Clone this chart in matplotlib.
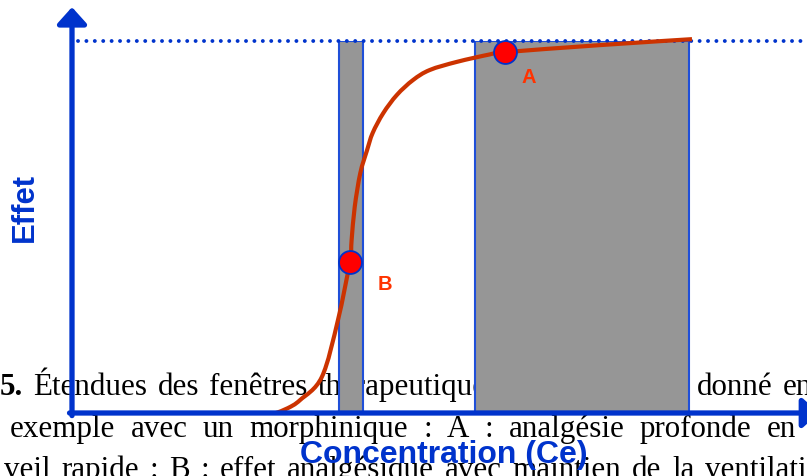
import matplotlib

matplotlib.use("Agg")
import matplotlib.pyplot as plt
from matplotlib.patches import PathPatch
from matplotlib.path import Path

# concentration / effect curve (Emax model, effect in % of maximum)
CONC = [3.29, 3.48, 3.68, 4.03, 4.29, 4.48, 4.51, 4.56, 4.65, 4.76,
        4.85, 5.02, 5.24, 5.50, 5.77, 6.21, 6.74, 6.98, 8.52, 10.0]
EFFECT = [0.0, 1.3, 3.5, 9.7, 25.0, 40.6, 46.5, 55.4, 64.5, 70.7,
          75.3, 80.6, 85.5, 89.5, 92.2, 94.4, 96.4, 97.0, 98.9, 100.5]
EMAX = 100

# therapeutic windows (concentration ranges)
WINDOW_START = [4.31, 6.50]
WINDOW_END = [4.69, 9.95]

# highlighted operating points
POINT_LABELS = ["A", "B"]
POINT_CONC = [6.98, 4.48]
POINT_EFFECT = [97.0, 40.6]
LABEL_OFFSETS = [(17.5, -18.5), (25.0, -16.0)]

CAPTION = [
    (0, 395, 2.5, ["5.", "Étendues", "des", "fenêtres", "thérapeutiques", "pour", "un", "effet"]),
    (697, 395, 2.5, ["donné", "en"]),
    (10, 437, 7.5, ["exemple", "avec", "un", "morphinique", ":", "A", ":", "analgésie", "profonde", "en"]),
    (4, 478, 3.0, ["veil", "rapide", ":", "B", ":", "effet", "analgésique", "avec", "maintien", "de", "la", "ventilation"]),
]

BLUE = "#0033CC"
EDGE_BLUE = "#1F4FD8"
GRAY = "#969696"
CURVE = "#CC3300"
LABEL = "#FF3300"

W, H = 807, 476
CAPTION_PX = 31


def smooth_path(xs, ys):
    """Catmull-Rom curve through every (x, y), as cubic Bezier segments."""
    pts = list(zip(xs, ys))
    verts = [pts[0]]
    codes = [Path.MOVETO]
    for i in range(len(pts) - 1):
        p0 = pts[max(i - 1, 0)]
        p1, p2 = pts[i], pts[i + 1]
        p3 = pts[min(i + 2, len(pts) - 1)]
        c1 = (p1[0] + (p2[0] - p0[0]) / 6, p1[1] + (p2[1] - p0[1]) / 6)
        c2 = (p2[0] - (p3[0] - p1[0]) / 6, p2[1] - (p3[1] - p1[1]) / 6)
        verts += [c1, c2, p2]
        codes += [Path.CURVE4] * 3
    return Path(verts, codes)


fig = plt.figure(figsize=(W / 100, H / 100), dpi=100)
ax = fig.add_axes([72 / W, (H - 413) / H, 620 / W, 372 / H])
ax.set_xlim(0, 10)
ax.set_ylim(0, 100)
ax.set_axis_off()
ax.patch.set_visible(False)

# caption printed underneath the figure
renderer = fig.canvas.get_renderer()
space = 0.25 * CAPTION_PX
for x0, baseline, gap, words in CAPTION:
    x = x0
    for word in words:
        t = ax.text(x / W, 1 - baseline / H, word, transform=fig.transFigure,
                    family="Liberation Serif", fontsize=CAPTION_PX * 0.72,
                    fontweight="bold" if word == "5." else "normal",
                    ha="left", va="baseline", color="black", zorder=1, clip_on=False)
        x += t.get_window_extent(renderer).width + space + gap

# windows
ax.bar(WINDOW_START, [EMAX] * len(WINDOW_START),
       width=[e - s for s, e in zip(WINDOW_START, WINDOW_END)], align="edge",
       color=GRAY, edgecolor=EDGE_BLUE, linewidth=1.5, zorder=2)

# maximal effect
ax.plot([0.1, 12.5], [EMAX, EMAX], color=BLUE, lw=2.8, linestyle=(0, (0.01, 2.15)),
        dash_capstyle="round", clip_on=False, zorder=3)

ax.add_patch(PathPatch(smooth_path(CONC, EFFECT), facecolor="none", edgecolor=CURVE,
                       lw=3.0, capstyle="butt", clip_on=False, zorder=4))

ax.scatter(POINT_CONC, POINT_EFFECT, s=16.5 ** 2, color="#FF0000", edgecolor=BLUE,
           linewidth=1.3, zorder=5, clip_on=False)
for label, cx, cy, off in zip(POINT_LABELS, POINT_CONC, POINT_EFFECT, LABEL_OFFSETS):
    ax.annotate(label, (cx, cy), xytext=off, textcoords="offset points",
                ha="center", va="center", color=LABEL, fontsize=14.5,
                family="Liberation Sans", fontweight="bold", zorder=6)

# axes drawn as arrows
arrow = dict(arrowstyle="-|>,head_length=1.0,head_width=0.9", mutation_scale=10,
             color=BLUE, lw=3.8, shrinkA=0, shrinkB=0)
ax.annotate("", xy=(0, 109.1), xytext=(0, -0.7), arrowprops=arrow,
            annotation_clip=False, zorder=5)
ax.annotate("", xy=(12.05, 0), xytext=(-0.04, 0), arrowprops=arrow,
            annotation_clip=False, zorder=5)

ax.text(444 / W, 1 - 463 / H, "Concentration (Ce)", transform=fig.transFigure,
        family="Liberation Sans", fontweight="bold", fontsize=23, color=BLUE,
        ha="center", va="baseline", zorder=7, clip_on=False)
ax.text(24.5 / W, 1 - 207.5 / H, "Effet", transform=fig.transFigure, rotation=90,
        family="Liberation Sans", fontweight="bold", fontsize=22.3, color=BLUE,
        ha="center", va="center", zorder=7, clip_on=False)

fig.savefig("out.png", dpi=100, facecolor="white")
